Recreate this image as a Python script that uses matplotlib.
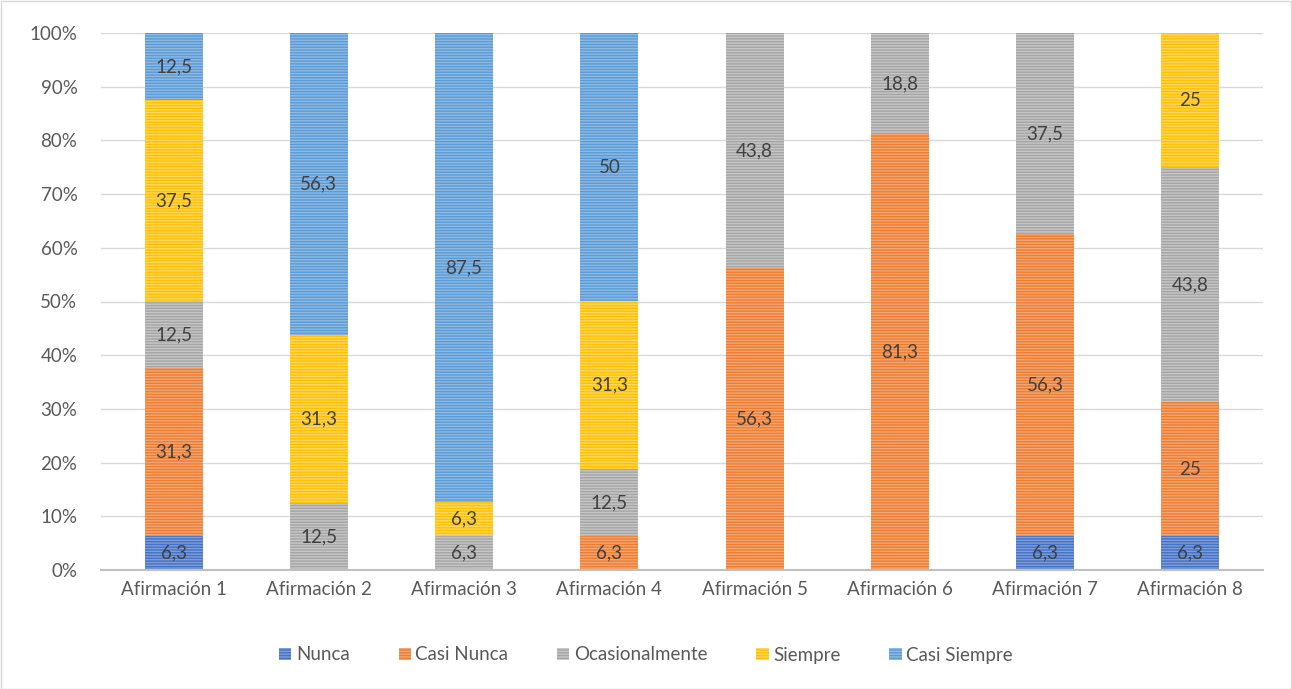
import matplotlib.pyplot as plt
import matplotlib.patches as mpatches
import numpy as np

plt.rcParams['font.family'] = ['Lato', 'DejaVu Sans']
plt.rcParams['hatch.linewidth'] = 1.0

categorias = ['Afirmación 1', 'Afirmación 2', 'Afirmación 3', 'Afirmación 4',
              'Afirmación 5', 'Afirmación 6', 'Afirmación 7', 'Afirmación 8']
series = ['Nunca', 'Casi Nunca', 'Ocasionalmente', 'Siempre', 'Casi Siempre']
nunca = [6.3, 0, 0, 0, 0, 0, 6.3, 6.3]
casi_nunca = [31.3, 0, 0, 6.3, 56.3, 81.3, 56.3, 25]
ocasionalmente = [12.5, 12.5, 6.3, 12.5, 43.8, 18.8, 37.5, 43.8]
siempre = [37.5, 31.3, 6.3, 31.3, 0, 0, 0, 25]
casi_siempre = [12.5, 56.3, 87.5, 50, 0, 0, 0, 0]

colores = ['#4472C4', '#ED7D31', '#A5A5A5', '#FFC000', '#5B9BD5']
rayas = ['#7E9DD8', '#F4A672', '#C6C6C6', '#FFD75C', '#8DBAE3']

valores = np.array([nunca, casi_nunca, ocasionalmente, siempre, casi_siempre])
totales = valores.sum(axis=0)
fracciones = valores / totales

fig = plt.figure(figsize=(12.92, 6.89), dpi=100)
ax = fig.add_axes([101 / 1292, 1 - 570 / 689, 1162 / 1292, 537 / 689])

x = np.arange(len(categorias))
base = np.zeros(len(categorias))
for i, nombre in enumerate(series):
    ax.bar(x, fracciones[i], 0.4, bottom=base, color=colores[i],
           edgecolor=rayas[i], hatch='------', linewidth=0, zorder=3)
    for j in range(len(categorias)):
        if valores[i, j] > 0:
            txt = ('%g' % valores[i, j]).replace('.', ',')
            ax.text(x[j], base[j] + fracciones[i, j] / 2, txt,
                    ha='center', va='center', fontsize=13.5, color='#404040', zorder=4)
    base += fracciones[i]

ax.set_xlim(-0.5, len(categorias) - 0.5)
ax.set_ylim(0, 1)
ax.set_yticks(np.arange(0, 1.01, 0.1))
ax.set_yticklabels(['%d%%' % v for v in range(0, 101, 10)])
ax.set_xticks(x)
ax.set_xticklabels(categorias)
ax.tick_params(axis='both', length=0, labelsize=13.5, colors='#595959')
ax.tick_params(axis='x', pad=8)
ax.tick_params(axis='y', pad=17)
ax.grid(axis='y', color='#D9D9D9', linewidth=1, zorder=0)
for lado in ['top', 'right', 'left']:
    ax.spines[lado].set_visible(False)
ax.spines['bottom'].set_color('#BFBFBF')
ax.spines['bottom'].set_linewidth(1.5)
ax.spines['bottom'].set_zorder(5)

handles = [mpatches.Patch(facecolor=colores[i], edgecolor=rayas[i], hatch='------',
                          linewidth=0) for i in range(len(series))]
fig.legend(handles, series, loc='center', bbox_to_anchor=(0.5, 1 - 655 / 689),
           ncol=5, frameon=False, fontsize=13.5, handlelength=0.65, handleheight=0.65,
           handletextpad=0.25, columnspacing=2.6, labelcolor='#595959')

fig.patches.append(mpatches.Rectangle((0.5 / 1292, 0.5 / 689), 1 - 1.5 / 1292, 1 - 1.5 / 689,
                                      transform=fig.transFigure, fill=False,
                                      edgecolor='#D9D9D9', linewidth=1))

fig.savefig('out.png', dpi=100)
